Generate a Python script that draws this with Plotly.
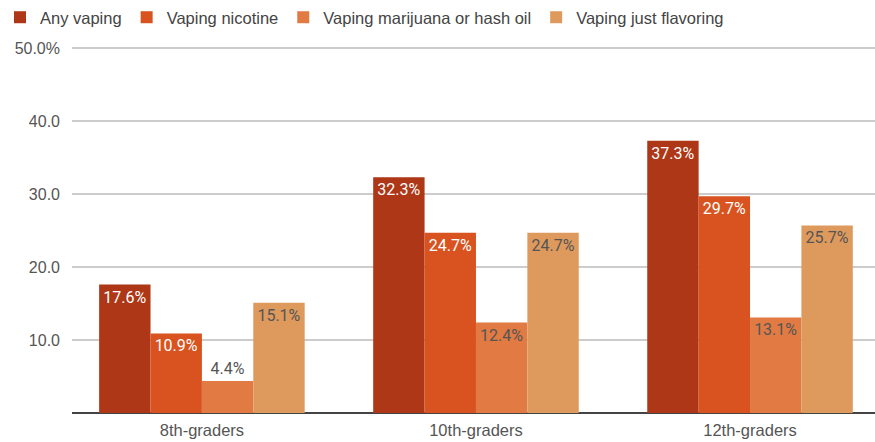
import plotly.graph_objects as go

categories = ["8th-graders", "10th-graders", "12th-graders"]
series_names = ["Any vaping", "Vaping nicotine", "Vaping marijuana or hash oil", "Vaping just flavoring"]
any_vaping = [17.6, 32.3, 37.3]
vaping_nicotine = [10.9, 24.7, 29.7]
vaping_marijuana = [4.4, 12.4, 13.1]
vaping_flavoring = [15.1, 24.7, 25.7]
y_tick_vals = [10, 20, 30, 40, 50]
y_tick_text = ["10.0", "20.0", "30.0", "40.0", "50.0%"]

colors = ["#AD3716", "#D8531F", "#E17B43", "#DE9A5D"]
label_colors = ["#FFFFFF", "#FFFFFF", "#555555", "#555555"]
series_values = [any_vaping, vaping_nicotine, vaping_marijuana, vaping_flavoring]

fig = go.Figure()
for name, vals, col, lc in zip(series_names, series_values, colors, label_colors):
    positions = ["outside" if v < 6 else "inside" for v in vals]
    fig.add_trace(go.Bar(
        x=categories, y=vals, name=name,
        marker=dict(color=col, line=dict(width=0)),
        text=[f"{v:.1f}%" for v in vals],
        textposition=positions,
        insidetextanchor="end",
        textfont=dict(family="Roboto", size=16, color=lc),
        outsidetextfont=dict(family="Roboto", size=16, color="#555555"),
        textangle=0,
        cliponaxis=False,
    ))

fig.update_layout(
    width=875, height=442,
    margin=dict(l=72, r=0, t=47, b=29, autoexpand=False),
    paper_bgcolor="white", plot_bgcolor="white",
    barmode="group", bargap=0.25, bargroupgap=0,
    uniformtext=dict(minsize=16, mode="show"),
    font=dict(family="Liberation Sans, Arial", size=15, color="#555555"),
    legend=dict(orientation="h", xref="container", yref="container",
                x=-0.008, y=1.0, xanchor="left", yanchor="top",
                font=dict(family="Liberation Sans, Arial", size=16.5, color="#444444"),
                itemwidth=30, traceorder="normal"),
    xaxis=dict(type="category", range=[-0.474, 2.456], showgrid=False,
               ticks="", tickfont=dict(size=16.5, color="#555555"),
               ticklabelstandoff=5,
               showline=False, zeroline=False),
    yaxis=dict(range=[0, 50.15], tickvals=y_tick_vals, ticktext=y_tick_text,
               showgrid=True, gridcolor="#CCCCCC", gridwidth=1.5,
               zeroline=True, zerolinecolor="#444444", zerolinewidth=2,
               ticks="", ticklabelstandoff=11,
               tickfont=dict(size=16, color="#555555")),
)

fig.write_html(
    "out.html",
    config={"displayModeBar": False},
    post_script="document.body.style.margin='0';document.body.style.overflow='hidden';",
)
